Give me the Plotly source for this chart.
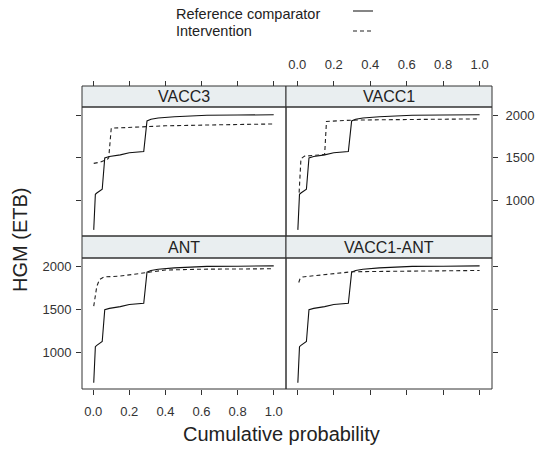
import plotly.graph_objects as go

# ---------------- data ----------------
panel_names = ["VACC3", "VACC1", "ANT", "VACC1-ANT"]

# Reference comparator (same curve in every panel)
ref_prob = [0.003, 0.012, 0.02, 0.05, 0.064, 0.09, 0.15, 0.2, 0.28, 0.298, 0.32, 0.36, 0.45, 0.55, 0.63, 0.8, 1.0]
ref_hgm = [650, 1070, 1085, 1130, 1500, 1515, 1535, 1560, 1575, 1935, 1955, 1970, 1985, 1995, 2003, 2005, 2008]

# Intervention curves
vacc3_prob = [0.003, 0.04, 0.08, 0.086, 0.1, 0.3, 0.4, 0.7, 1.0]
vacc3_hgm = [1435, 1450, 1485, 1500, 1850, 1865, 1878, 1890, 1900]

vacc1_prob = [0.01, 0.015, 0.02, 0.04, 0.1, 0.15, 0.16, 0.3, 0.5, 1.0]
vacc1_hgm = [1090, 1300, 1490, 1520, 1530, 1540, 1930, 1945, 1950, 1960]

ant_prob = [0.003, 0.012, 0.02, 0.035, 0.06, 0.15, 0.3, 0.4, 0.6, 1.0]
ant_hgm = [1540, 1700, 1770, 1850, 1880, 1890, 1930, 1960, 1970, 1975]

vacc1ant_prob = [0.008, 0.015, 0.03, 0.1, 0.2, 0.3, 0.5, 1.0]
vacc1ant_hgm = [1815, 1860, 1880, 1895, 1915, 1940, 1945, 1955]

x_ticks = [0.0, 0.2, 0.4, 0.6, 0.8, 1.0]
x_ticklabels = ["0.0", "0.2", "0.4", "0.6", "0.8", "1.0"]
y_ticks = [1000, 1500, 2000]
y_ticklabels = ["1000", "1500", "2000"]

series_names = ["Reference comparator", "Intervention"]
x_title = "Cumulative probability"
y_title = "HGM (ETB)"

# ---------------- layout geometry ----------------
FONT = "Liberation Sans, Arial, Helvetica, sans-serif"
W, H = 537, 449
ML = 82
MT = 86
MR = W - 492
MB = H - 389
PW = W - ML - MR
PH = H - MT - MB


def px_x(px):
    return (px - ML) / PW


def px_y(py):
    return (H - MB - py) / PH


col_split = px_x(286)
x_domains = [[0, col_split], [col_split, 1]]
top_plot = [px_y(236), px_y(107)]
top_strip = [px_y(107), 1.0]
bot_plot = [0.0, px_y(258)]
bot_strip = [px_y(258), px_y(236)]

X_RANGE = [-0.062, 1.068]
Y_RANGE = [578, 2100]
LINE_COL = "#333333"
TICK_FONT = dict(family=FONT, size=13, color="#333333")

interv = [(vacc3_prob, vacc3_hgm), (vacc1_prob, vacc1_hgm),
          (ant_prob, ant_hgm), (vacc1ant_prob, vacc1ant_hgm)]

fig = go.Figure()
shapes = []
annotations = []

for i, name in enumerate(panel_names):
    k = i + 1
    row, col = i // 2, i % 2
    xa = "x" if k == 1 else f"x{k}"
    ya = "y" if k == 1 else f"y{k}"
    fig.add_trace(go.Scatter(x=ref_prob, y=ref_hgm, mode="lines", xaxis=xa, yaxis=ya,
                             name=series_names[0], showlegend=False, hoverinfo="skip",
                             line=dict(color="#111111", width=1.1)))
    fig.add_trace(go.Scatter(x=interv[i][0], y=interv[i][1], mode="lines", xaxis=xa, yaxis=ya,
                             name=series_names[1], showlegend=False, hoverinfo="skip",
                             line=dict(color="#222222", width=1.1, dash="4px,3px")))

    ydom = top_plot if row == 0 else bot_plot
    sdom = top_strip if row == 0 else bot_strip
    xdom = x_domains[col]

    xaxis = dict(domain=xdom, range=X_RANGE, tickvals=x_ticks, ticktext=x_ticklabels,
                 ticks="outside", ticklen=5, tickwidth=1, tickcolor=LINE_COL, automargin=False,
                 showgrid=False, zeroline=False, showline=False, tickfont=TICK_FONT)
    if row == 0:
        xaxis.update(anchor="free", position=1.0, side="top", showticklabels=(col == 1),
                     ticklabelstandoff=7)
    else:
        xaxis.update(anchor=ya, side="bottom", showticklabels=(col == 0),
                     ticklabelstandoff=5)

    yaxis = dict(domain=ydom, range=Y_RANGE, tickvals=y_ticks, ticktext=y_ticklabels,
                 ticks="outside", ticklen=5, tickwidth=1, tickcolor=LINE_COL, automargin=False,
                 showgrid=False, zeroline=False, showline=False, tickfont=TICK_FONT,
                 anchor=xa, side="left" if col == 0 else "right",
                 ticklabelstandoff=(2 if col == 0 else 5),
                 showticklabels=(row == 0 and col == 1) or (row == 1 and col == 0))

    fig.update_layout(**{("xaxis" if k == 1 else f"xaxis{k}"): xaxis,
                         ("yaxis" if k == 1 else f"yaxis{k}"): yaxis})

    # strip
    shapes.append(dict(type="rect", xref="paper", yref="paper", x0=xdom[0], x1=xdom[1],
                       y0=sdom[0], y1=sdom[1], fillcolor="#E9EEF0",
                       line=dict(color=LINE_COL, width=1), layer="below"))
    # panel border
    shapes.append(dict(type="rect", xref="paper", yref="paper", x0=xdom[0], x1=xdom[1],
                       y0=ydom[0], y1=ydom[1], fillcolor="rgba(0,0,0,0)",
                       line=dict(color=LINE_COL, width=1), layer="above"))
    annotations.append(dict(text=name, xref="paper", yref="paper",
                            x=(xdom[0] + xdom[1]) / 2, y=(sdom[0] + sdom[1]) / 2,
                            xanchor="center", yanchor="middle", showarrow=False,
                            font=dict(family=FONT, size=16, color="#222222")))

# axis titles
annotations.append(dict(text=x_title, xref="paper", yref="paper", x=px_x(281), y=px_y(434),
                        xanchor="center", yanchor="middle", showarrow=False,
                        font=dict(family=FONT, size=20, color="#222222")))
annotations.append(dict(text=y_title, xref="paper", yref="paper", x=px_x(20), y=px_y(240),
                        xanchor="center", yanchor="middle", showarrow=False, textangle=-90,
                        font=dict(family=FONT, size=20, color="#222222")))

# manual legend (text left, key line right)
leg_rows = [(series_names[0], 14, 11, "solid"), (series_names[1], 30.5, 31, "4px,3px")]
for txt, ty, ly, dash in leg_rows:
    annotations.append(dict(text=txt, xref="paper", yref="paper", x=px_x(174), y=px_y(ty),
                            xanchor="left", yanchor="middle", showarrow=False,
                            font=dict(family=FONT, size=14.5, color="#222222")))
    shapes.append(dict(type="line", xref="paper", yref="paper", x0=px_x(353), x1=px_x(373),
                       y0=px_y(ly), y1=px_y(ly), line=dict(color="#222222", width=1.1, dash=dash)))

fig.update_layout(width=W, height=H, autosize=False,
                  margin=dict(l=ML, r=MR, t=MT, b=MB, pad=0),
                  paper_bgcolor="white", plot_bgcolor="white",
                  font=dict(family=FONT, color="#222222"),
                  hovermode=False,
                  shapes=shapes, annotations=annotations, showlegend=False)

fig.write_html("out.html", config={"displayModeBar": False},
               post_script="document.body.style.margin='0px';")
